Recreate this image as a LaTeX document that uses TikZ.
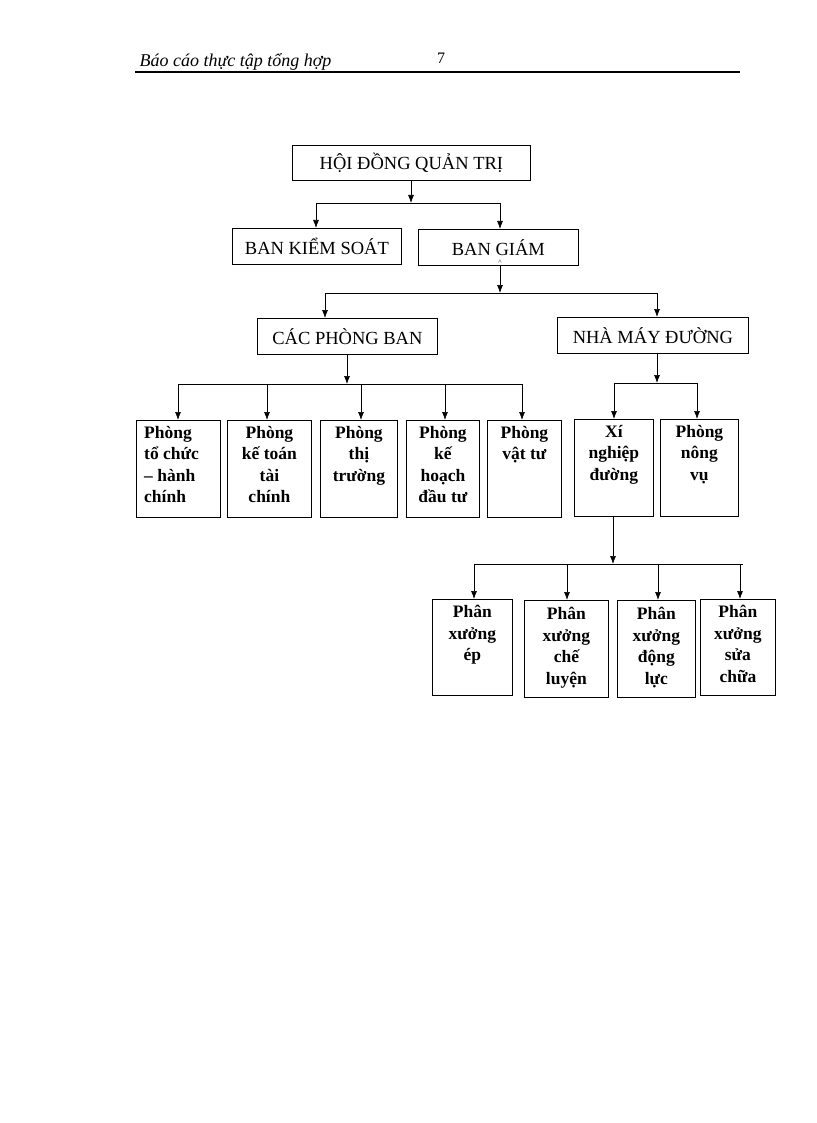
\documentclass[tikz,border=0pt]{standalone}
\usepackage{fontspec}
\setmainfont{Liberation Serif}
\usetikzlibrary{arrows.meta}
\begin{document}
\begin{tikzpicture}[x=1pt,y=-1pt,
  bx/.style={draw,line width=0.8pt,minimum width=#1,inner sep=0pt,font=\fontsize{18.5}{20}\selectfont},
  sb/.style={draw,line width=0.8pt,anchor=north west,inner sep=0pt},
  tx/.style={anchor=north,align=center,font=\bfseries\fontsize{17.5}{21.5}\selectfont,inner sep=0pt},
  ar/.style={-{Latex[length=8pt,width=6pt]},line width=0.7pt},
  ln/.style={line width=0.7pt}]
\useasboundingbox (0,0) rectangle (816,1123);
\node[anchor=base west,font=\itshape\fontsize{18}{20}\selectfont] (h) at (136,67) {Báo cáo thực tập tổng hợp};
\node[anchor=base,font=\fontsize{16}{20}\selectfont] (p) at (441,64) {7};
\coordinate (l1) at (135,72); \coordinate (l2) at (740,72);
\draw[line width=1.2pt] (l1) -- (l2);
% top level
\node[bx=238pt,minimum height=35pt,anchor=north west] (hd) at (292,145) {HỘI ĐỒNG QUẢN TRỊ};
\node[bx=169pt,minimum height=36pt,anchor=north west] (bks) at (232,228) {BAN KIỂM SOÁT};
\node[bx=160pt,minimum height=36pt,anchor=north west] (bgd) at (418,229) {BAN GIÁM};
\node[font=\fontsize{7}{7}\selectfont,inner sep=0pt] (acc) at (500,262) {\textasciicircum};
\node[bx=180pt,minimum height=36pt,anchor=north west] (cpb) at (257,318) {CÁC PHÒNG BAN};
\node[bx=191pt,minimum height=36pt,anchor=north west] (nmd) at (557,317) {NHÀ MÁY ĐƯỜNG};
% connectors
\coordinate (b1) at (411,203); \coordinate (b1l) at (316,203); \coordinate (b1r) at (500,203);
\draw[ar] (hd.south -| b1) -- (b1);
\draw[ln] (b1l) -- (b1r);
\draw[ar] (b1l) -- (b1l |- bks.north);
\draw[ar] (b1r) -- (b1r |- bgd.north);
\coordinate (b2) at (500,293); \coordinate (b2l) at (325,293); \coordinate (b2r) at (657,293);
\draw[ar] (bgd.south -| b2) -- (b2);
\draw[ln] (b2l) -- (b2r);
\draw[ar] (b2l) -- (b2l |- cpb.north);
\draw[ar] (b2r) -- (b2r |- nmd.north);
% departments
\node[sb,minimum width=84pt,minimum height=97pt] (p1) at (136,420) {};
\node[tx,anchor=north west,align=left] (p1t) at (144,426) {Phòng\\tổ chức\\– hành\\chính};
\node[sb,minimum width=84pt,minimum height=97pt] (p2) at (227,420) {};
\node[tx] (p2t) at (p2.north) [yshift=-6pt] {Phòng\\kế toán\\tài\\chính};
\node[sb,minimum width=77pt,minimum height=97pt] (p3) at (320,420) {};
\node[tx] (p3t) at (p3.north) [yshift=-6pt] {Phòng\\thị\\trường};
\node[sb,minimum width=73pt,minimum height=97pt] (p4) at (406,420) {};
\node[tx] (p4t) at (p4.north) [yshift=-6pt] {Phòng\\kế\\hoạch\\đầu tư};
\node[sb,minimum width=74pt,minimum height=97pt] (p5) at (487,420) {};
\node[tx] (p5t) at (p5.north) [yshift=-6pt] {Phòng\\vật tư};
\node[sb,minimum width=79pt,minimum height=97pt] (x1) at (574,419) {};
\node[tx] (x1t) at (x1.north) [yshift=-6pt] {Xí\\nghiệp\\đường};
\node[sb,minimum width=78pt,minimum height=97pt] (x2) at (660,419) {};
\node[tx] (x2t) at (x2.north) [yshift=-6pt] {Phòng\\nông\\vụ};
\coordinate (b3) at (347,384); \coordinate (b3l) at (178,384); \coordinate (b3r) at (522,384);
\coordinate (c2) at (267,384); \coordinate (c3) at (361,384); \coordinate (c4) at (445,384);
\draw[ar] (cpb.south -| b3) -- (b3);
\draw[ln] (b3l) -- (b3r);
\draw[ar] (b3l) -- (b3l |- p1.north);
\draw[ar] (c2) -- (c2 |- p2.north);
\draw[ar] (c3) -- (c3 |- p3.north);
\draw[ar] (c4) -- (c4 |- p4.north);
\draw[ar] (b3r) -- (b3r |- p5.north);
\coordinate (b4) at (657,383); \coordinate (b4l) at (614,383); \coordinate (b4r) at (697,383);
\draw[ar] (nmd.south -| b4) -- (b4);
\draw[ln] (b4l) -- (b4r);
\draw[ar] (b4l) -- (b4l |- x1.north);
\draw[ar] (b4r) -- (b4r |- x2.north);
% workshops
\node[sb,minimum width=80pt,minimum height=96pt] (w1) at (432,599) {};
\node[tx] (w1t) at (w1.north) [yshift=-6pt] {Phân\\xưởng\\ép};
\node[sb,minimum width=84pt,minimum height=97pt] (w2) at (524,600) {};
\node[tx] (w2t) at (w2.north) [yshift=-7pt] {Phân\\xưởng\\chế\\luyện};
\node[sb,minimum width=78pt,minimum height=97pt] (w3) at (617,600) {};
\node[tx] (w3t) at (w3.north) [yshift=-7pt] {Phân\\xưởng\\động\\lực};
\node[sb,minimum width=75pt,minimum height=96pt] (w4) at (700,599) {};
\node[tx] (w4t) at (w4.north) [yshift=-6pt] {Phân\\xưởng\\sửa\\chữa};
\coordinate (b5) at (613,564); \coordinate (b5l) at (474,564); \coordinate (b5r) at (743,564);
\coordinate (d2) at (567,564); \coordinate (d3) at (658,564); \coordinate (d4) at (740,564);
\draw[ar] (x1.south -| b5) -- (b5);
\draw[ln] (b5l) -- (b5r);
\draw[ar] (b5l) -- (b5l |- w1.north);
\draw[ar] (d2) -- (d2 |- w2.north);
\draw[ar] (d3) -- (d3 |- w3.north);
\draw[ar] (d4) -- (d4 |- w4.north);
\end{tikzpicture}
\end{document}
